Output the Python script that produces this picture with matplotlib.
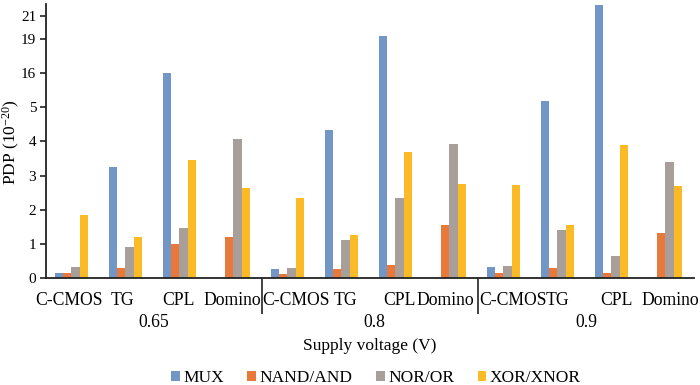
import numpy as np
import matplotlib
matplotlib.use('Agg')
import matplotlib.pyplot as plt
import matplotlib.transforms as mtransforms

plt.rcParams['font.family'] = ['Liberation Serif', 'DejaVu Serif']
plt.rcParams['mathtext.fontset'] = 'custom'
plt.rcParams['mathtext.rm'] = 'Liberation Serif'
plt.rcParams['mathtext.it'] = 'Liberation Serif:italic'

# Datos
circuitos = ['C-CMOS', 'TG', 'CPL', 'Domino']
voltajes = ['0.65', '0.8', '0.9']
series = ['MUX', 'NAND/AND', 'NOR/OR', 'XOR/XNOR']
colores = ['#7297C7', '#E8793A', '#A89F9A', '#FBBA26']

mux = [0.15, 3.26, 15.9, 0.0, 0.26, 4.32, 19.25, 0.0, 0.32, 6.85, 21.9, 0.0]
nand = [0.15, 0.31, 1.01, 1.20, 0.12, 0.28, 0.40, 1.55, 0.15, 0.31, 0.15, 1.31]
nor = [0.34, 0.92, 1.46, 4.08, 0.29, 1.12, 2.34, 3.92, 0.36, 1.41, 0.66, 3.39]
xor = [1.85, 1.20, 3.46, 2.63, 2.34, 1.26, 3.68, 2.75, 2.72, 1.56, 3.88, 2.69]

ticks_y = [0, 1, 2, 3, 4, 5, 16, 19, 21]

# desfase horizontal (px) de cada etiqueta, como en la figura original
desfase_cat = [-4, -5, -3, -3, 7, 2, 2, -5.5, 8, -1.5, 3, 3.5]
desfase_grupo = [0, 4, 0]

# Eje Y quebrado: 0-5 lineal, 5-16 un solo intervalo, 16-22 comprimido
v_pts = [0, 5, 16, 22]
p_pts = [0, 5, 6, 8]


def forward(v):
    return np.interp(v, v_pts, p_pts)


def inverse(p):
    return np.interp(p, p_pts, v_pts)


fig = plt.figure(figsize=(7, 3.85), dpi=100)
ax = fig.add_axes([46 / 700, 1 - 278.3 / 385, (694 - 46) / 700, 274 / 385])
ax.set_yscale('function', functions=(forward, inverse))

x = np.arange(len(circuitos) * len(voltajes))
ancho = 0.155
for i, (vals, c) in enumerate(zip([mux, nand, nor, xor], colores)):
    ax.bar(x + (i - 1.5) * ancho - 0.03, vals, ancho, color=c, label=series[i])

ax.set_xlim(-0.5, 11.5)
ax.set_ylim(0, 22)
ax.set_yticks(ticks_y)
ax.set_yticklabels([str(t) for t in ticks_y])
ax.yaxis.set_minor_locator(matplotlib.ticker.NullLocator())

ax.set_xticks(x)
ax.set_xticklabels(circuitos * len(voltajes))
ax.set_xticks([3.5, 7.5], minor=True)
ax.tick_params(axis='x', which='major', length=0, pad=10, labelsize=12.7)
ax.tick_params(axis='x', which='minor', length=26, width=1.2, color='#222222')
ax.tick_params(axis='y', length=4, width=1.2, pad=3, labelsize=11, color='#222222')

for lbl, d in zip(ax.get_xticklabels(), desfase_cat):
    desplaza = mtransforms.ScaledTranslation(d / 100, 0, fig.dpi_scale_trans)
    lbl.set_transform(lbl.get_transform() + desplaza)

for s in ['top', 'right']:
    ax.spines[s].set_visible(False)
for s in ['left', 'bottom']:
    ax.spines[s].set_linewidth(1.3)
    ax.spines[s].set_color('#222222')

for j, v in enumerate(voltajes):
    t = ax.text(j * 4 + 1.5, -0.16, v, transform=ax.get_xaxis_transform(),
                ha='center', va='center', fontsize=12.7)
    t.set_transform(t.get_transform() +
                    mtransforms.ScaledTranslation(desfase_grupo[j] / 100, 0, fig.dpi_scale_trans))

fig.text(370 / 700, 1 - 346 / 385, 'Supply voltage (V)', ha='center', va='center', fontsize=12.5)
fig.text(11 / 700, 1 - 142 / 385, 'PDP (10$^{-20}$)', ha='center', va='center',
         rotation=90, fontsize=12.5)

fig.legend(loc='center', bbox_to_anchor=(376 / 700, 1 - 378 / 385), ncol=4, frameon=False,
           fontsize=12.5, handlelength=0.5, handleheight=0.5, handletextpad=0.2,
           columnspacing=1.35, borderpad=0)

fig.savefig('out.png', dpi=100)
